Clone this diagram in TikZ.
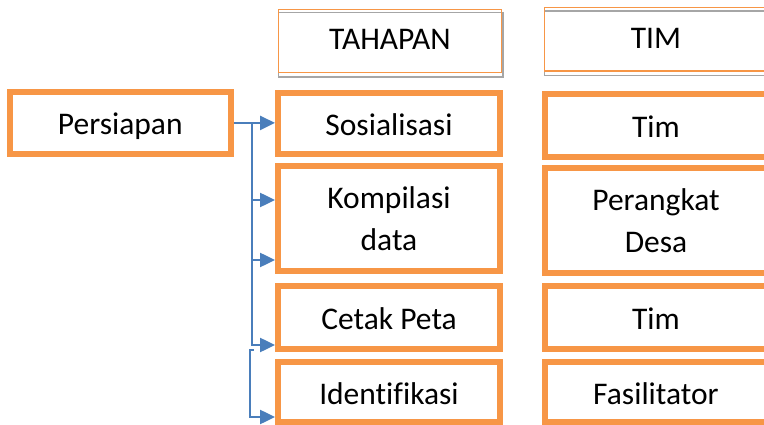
\documentclass[tikz,border=0pt]{standalone}
\usepackage{fontspec}
\setmainfont{Carlito}[Ligatures=CommonOff]
\usetikzlibrary{arrows.meta}
\definecolor{boxorange}{HTML}{F79646}
\definecolor{arrowblue}{HTML}{4A7EBB}
\definecolor{shadowgrey}{HTML}{A6A6A6}
\begin{document}
\begin{tikzpicture}[x=1pt,y=-1pt,
  every node/.style={font=\fontsize{31.5pt}{41.7pt}\selectfont, inner sep=0pt, align=center},
  box/.style={draw=boxorange, line width=6pt, minimum width=222pt},
  oneline/.style={text height=24pt, text depth=0pt},
  headbox/.style={draw=boxorange, line width=1.5pt, minimum width=221.7pt, minimum height=61.7pt},
  headtext/.style={text height=18pt, text depth=0pt},
  hshadow/.style={draw=shadowgrey, line width=1.5pt},
  link/.style={draw=arrowblue, line width=2.5pt},
  arr/.style={link, -{Triangle[length=15pt,width=14pt]}}
]
\useasboundingbox (0,0) rectangle (764,425);
\clip (0,0) rectangle (764,425);

% header boxes
\node[headbox, draw=none] (tahapan) at (389.9,40.9) {};
\node[headbox, draw=none] (tim) at (656,39.2) {};
\draw[hshadow] ([yshift=-3.3pt]tahapan.north west) rectangle ([shift={(1.6pt,-4.3pt)}]tahapan.south east);
\draw[hshadow] ([yshift=-3.3pt]tim.north west) rectangle ([shift={(1.6pt,-4.8pt)}]tim.south east);
\draw[boxorange, line width=1.5pt] (tahapan.north west) rectangle (tahapan.south east);
\draw[boxorange, line width=1.5pt] (tim.north west) rectangle (tim.south east);
\node[headtext] at (tahapan) {TAHAPAN};
\node[headtext] at (tim) {TIM};

% left box
\node[box, oneline, minimum width=221pt, minimum height=61.8pt] (persiapan) at (120.25,122.9) {Persiapan};

% stage column
\node[box, oneline, minimum height=61.5pt] (sos) at (389,123.75) {Sosialisasi};
\node[box, minimum height=104.7pt] (komp) at (389,218.7) {Kompilasi\\data};
\node[box, oneline, minimum height=62.5pt] (cetak) at (389,317.25) {Cetak Peta};
\node[box, oneline, minimum height=60pt] (ident) at (389,392) {Identifikasi};

% team column
\node[box, oneline, minimum height=62.7pt] (tim1) at (656,125.35) {Tim};
\node[box, minimum height=105pt] (perangkat) at (656,220.5) {Perangkat\\Desa};
\node[box, oneline, minimum height=62.5pt] (tim2) at (656,317.25) {Tim};
\node[box, oneline, minimum height=60pt] (fasil) at (656,392) {Fasilitator};

% connectors
\coordinate (trunktop) at (252,123);
\coordinate (trunkbot) at (252,345);
\coordinate (k1) at (252,200);
\coordinate (k2) at (252,260);
\coordinate (b0) at (253.5,350);
\coordinate (b1) at (250,417);

\draw[arr] (persiapan.east) -- (persiapan.east -| sos.west);
\draw[arr] (trunktop) |- (trunkbot -| cetak.west);
\draw[arr] (k1) -- (k1 -| komp.west);
\draw[arr] (k2) -- (k2 -| komp.west);
\draw[arr] (b0) -| (b1) -- (b1 -| ident.west);
\end{tikzpicture}
\end{document}
